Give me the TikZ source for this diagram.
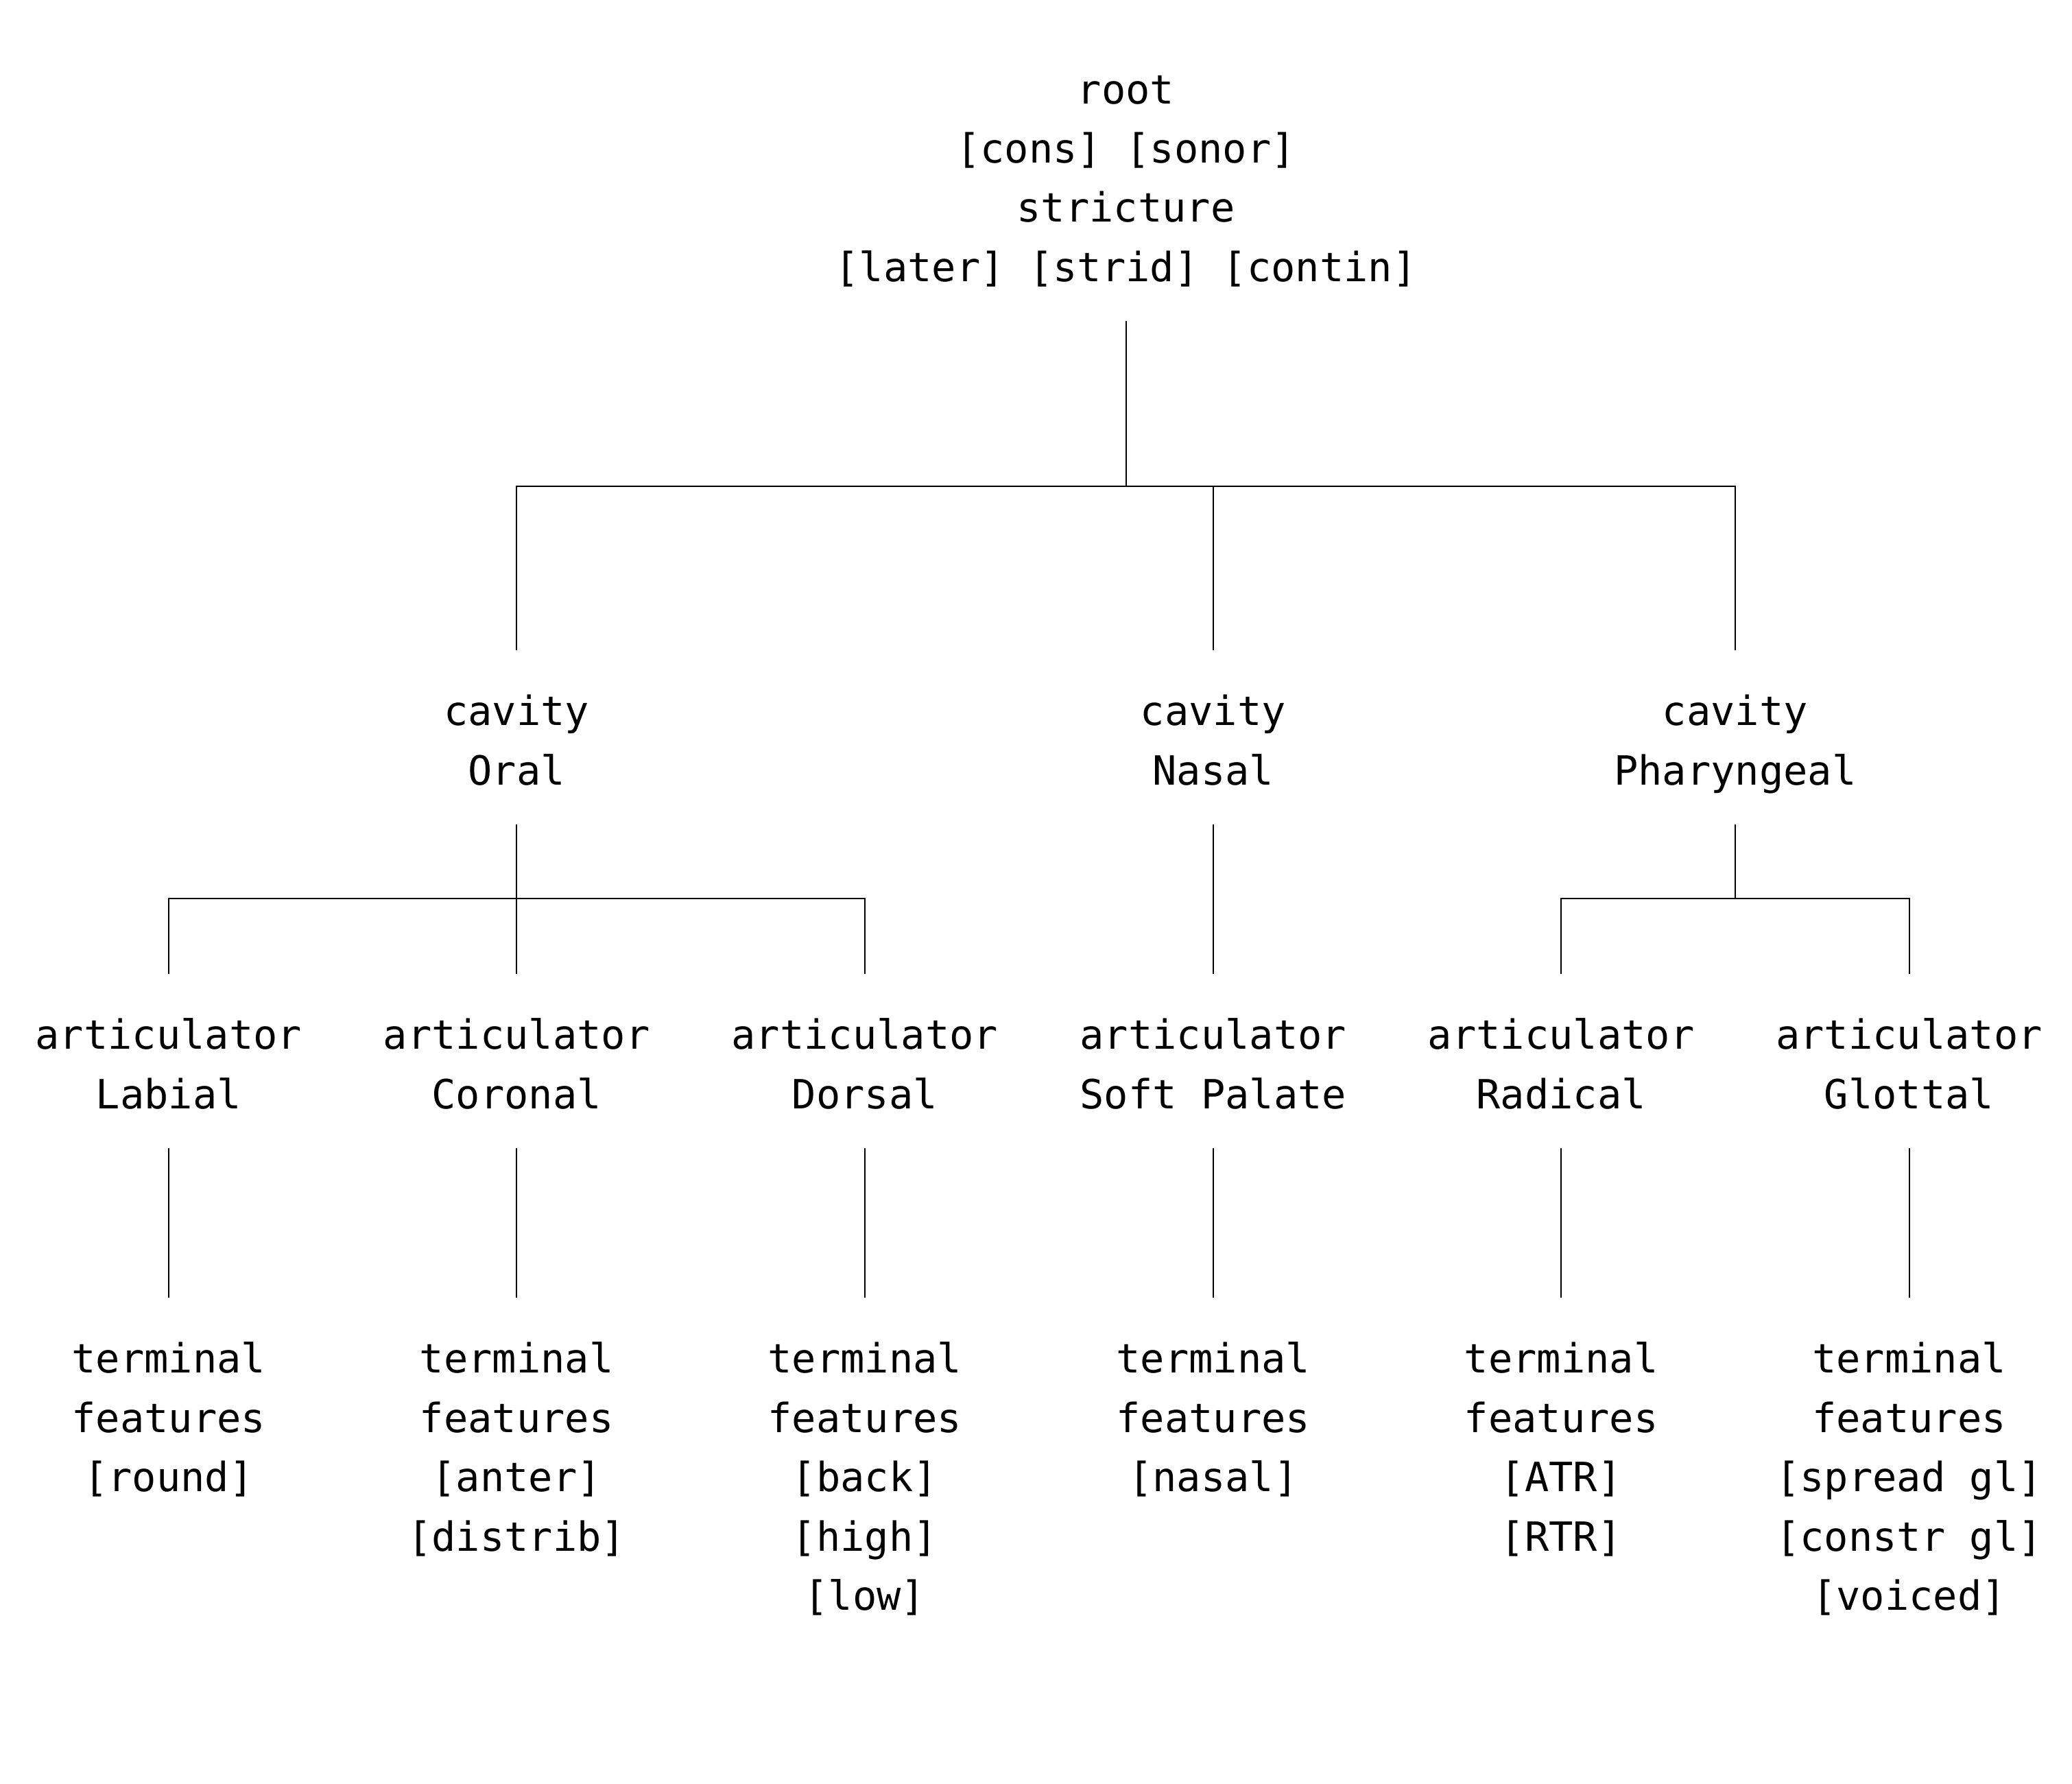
\documentclass[tikz,border=0pt]{standalone}
\usepackage{fontspec}
\setmonofont{DejaVu Sans Mono}
\usetikzlibrary{positioning}

% fixed room above the first and below the last line of every tier
\newcommand{\tiertop}{\rule{0pt}{1.10cm}}
\newcommand{\tierbot}{\rule[-0.575cm]{0pt}{0.575cm}}

\begin{document}
\begin{tikzpicture}[
  font=\ttfamily\fontsize{16.7pt}{24.6pt}\selectfont,
  tier/.style={align=center, inner sep=0pt, outer sep=0pt},
  link/.style={draw, line width=0.6pt}
]
\useasboundingbox (0,0) rectangle (30.21,-26.01);

% Root
\node[tier, anchor=north] (root) at (16.416,-0.41) {\tiertop root\\{}[cons] [sonor]\\stricture\\{}[later] [strid] [contin]\tierbot};

% Cavities
\node[tier, below=4.8cm of root, xshift=-8.883cm] (oral) {\tiertop cavity\\Oral\tierbot};
\node[tier, below=4.8cm of root, xshift=1.271cm] (nasal) {\tiertop cavity\\Nasal\tierbot};
\node[tier, below=4.8cm of root, xshift=8.882cm] (phar) {\tiertop cavity\\Pharyngeal\tierbot};

\draw[link] (root.south) -- ++(0,-2.41) -| (oral.north);
\draw[link] (root.south) -- ++(0,-2.41) -| (nasal.north);
\draw[link] (root.south) -- ++(0,-2.41) -| (phar.north);

% Articulators
\node[tier, below=2.18cm of oral, xshift=-5.075cm] (labial) {\tiertop articulator\\Labial\tierbot};
\node[tier, below=2.18cm of oral] (coronal) {\tiertop articulator\\Coronal\tierbot};
\node[tier, below=2.18cm of oral, xshift=5.075cm] (dorsal) {\tiertop articulator\\Dorsal\tierbot};
\node[tier, below=2.18cm of nasal] (softpal) {\tiertop articulator\\Soft Palate\tierbot};
\node[tier, below=2.18cm of phar, xshift=-2.5375cm] (radical) {\tiertop articulator\\Radical\tierbot};
\node[tier, below=2.18cm of phar, xshift=2.5375cm] (glottal) {\tiertop articulator\\Glottal\tierbot};

\draw[link] (oral.south) -- ++(0,-1.08) -| (labial.north);
\draw[link] (oral.south) -- (coronal.north);
\draw[link] (oral.south) -- ++(0,-1.08) -| (dorsal.north);
\draw[link] (nasal.south) -- (softpal.north);
\draw[link] (phar.south) -- ++(0,-1.08) -| (radical.north);
\draw[link] (phar.south) -- ++(0,-1.08) -| (glottal.north);

% Terminal features
\node[tier, below=2.18cm of labial] (tlabial) {\tiertop terminal\\features\\{}[round]\tierbot};
\node[tier, below=2.18cm of coronal] (tcoronal) {\tiertop terminal\\features\\{}[anter]\\{}[distrib]\tierbot};
\node[tier, below=2.18cm of dorsal] (tdorsal) {\tiertop terminal\\features\\{}[back]\\{}[high]\\{}[low]\tierbot};
\node[tier, below=2.18cm of softpal] (tsoftpal) {\tiertop terminal\\features\\{}[nasal]\tierbot};
\node[tier, below=2.18cm of radical] (tradical) {\tiertop terminal\\features\\{}[ATR]\\{}[RTR]\tierbot};
\node[tier, below=2.18cm of glottal] (tglottal) {\tiertop terminal\\features\\{}[spread gl]\\{}[constr gl]\\{}[voiced]\tierbot};

\draw[link] (labial.south) -- (tlabial.north);
\draw[link] (coronal.south) -- (tcoronal.north);
\draw[link] (dorsal.south) -- (tdorsal.north);
\draw[link] (softpal.south) -- (tsoftpal.north);
\draw[link] (radical.south) -- (tradical.north);
\draw[link] (glottal.south) -- (tglottal.north);

\end{tikzpicture}
\end{document}
